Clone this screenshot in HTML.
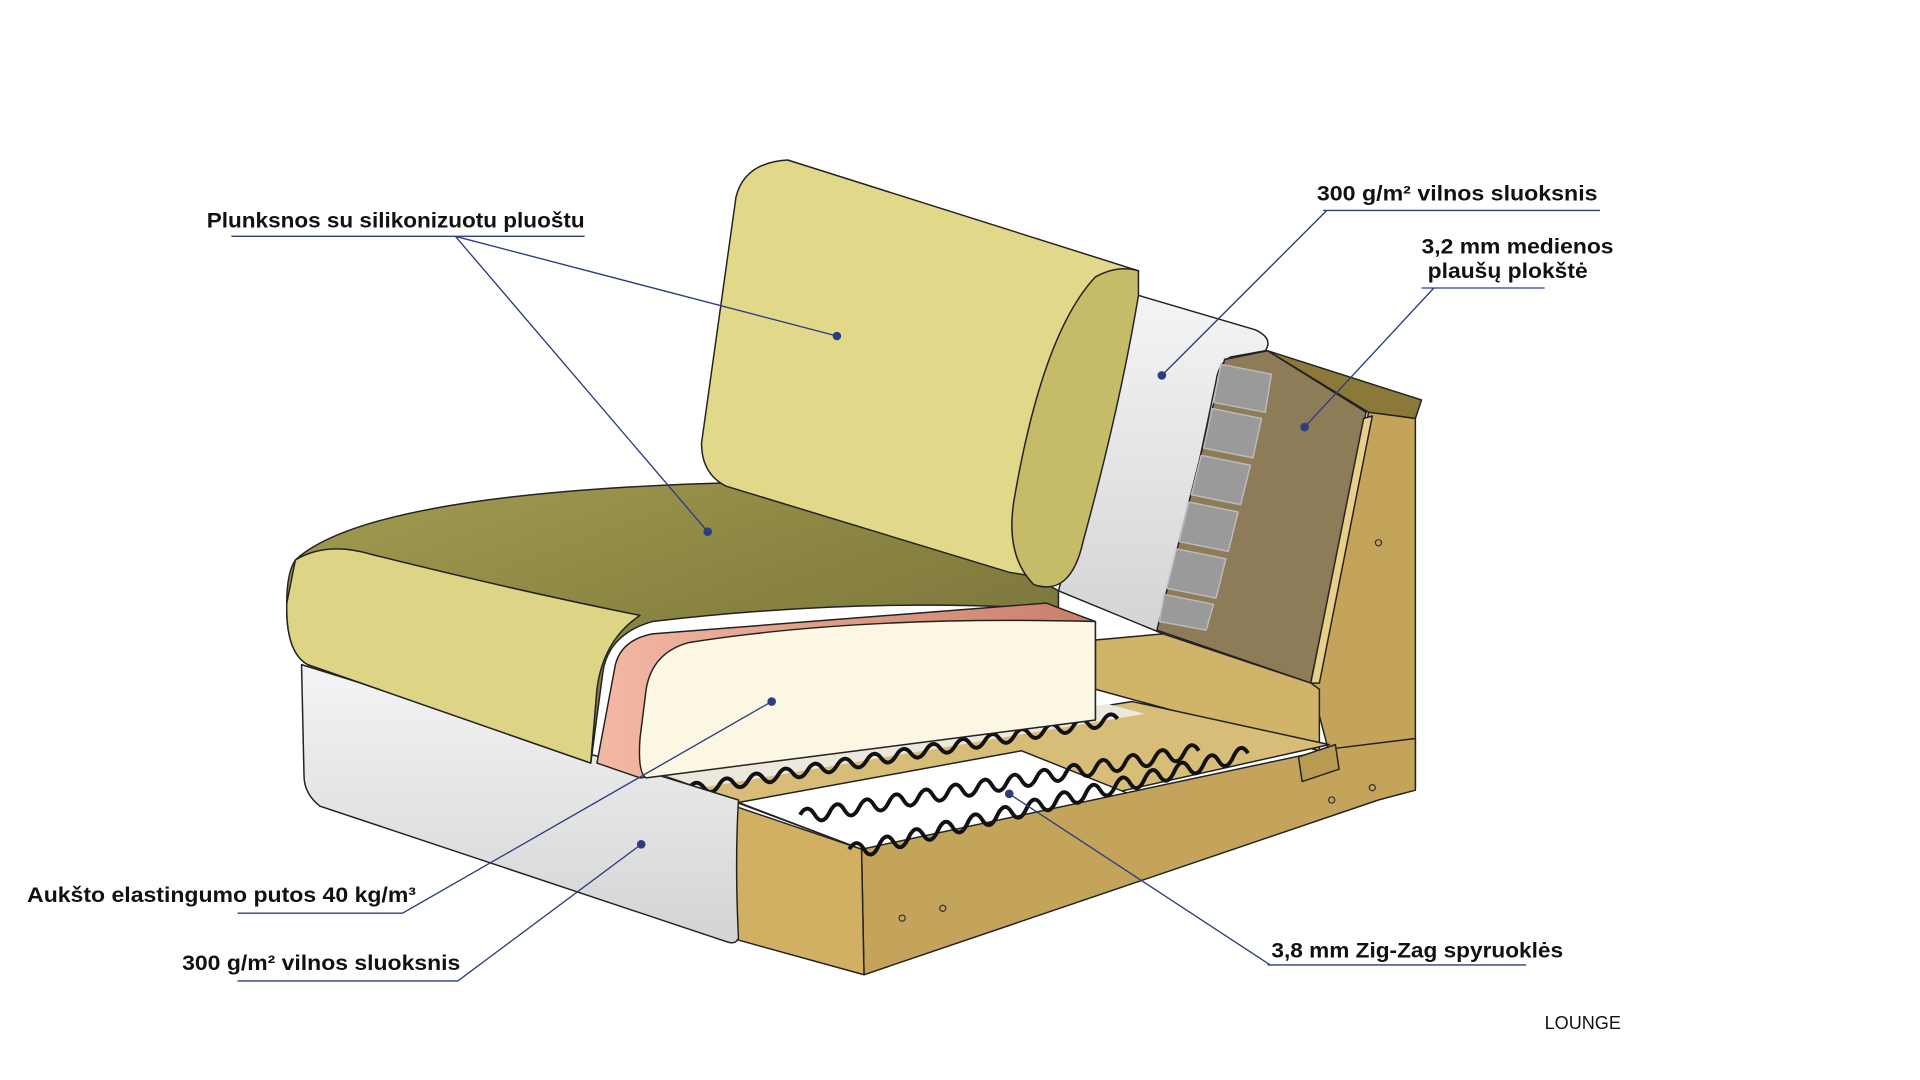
<!DOCTYPE html>
<html><head><meta charset="utf-8"><style>
html,body{margin:0;padding:0;background:#fff;width:1920px;height:1080px;overflow:hidden}
svg{display:block}
text{font-family:"Liberation Sans",sans-serif;font-weight:bold;fill:#111;font-size:17px}
</style></head><body>
<svg width="1920" height="1080" viewBox="0 0 1560 877.5" xmlns="http://www.w3.org/2000/svg">
<defs>
<linearGradient id="wh" x1="0" y1="0" x2="0" y2="1"><stop offset="0" stop-color="#f4f4f4"/><stop offset="1" stop-color="#d4d4d4"/></linearGradient>
<linearGradient id="seat" x1="0" y1="0" x2="1" y2="1"><stop offset="0" stop-color="#a39c50"/><stop offset="1" stop-color="#6f6a35"/></linearGradient>
<linearGradient id="pink" x1="0" y1="0" x2="1" y2="0"><stop offset="0" stop-color="#f3b8a4"/><stop offset="1" stop-color="#c97f6a"/></linearGradient>
</defs>
<g stroke="#222" stroke-width="1.2" stroke-linejoin="round">
<!-- back white arm -->
<path d="M925,240 L1020,268 Q1035,275 1028,285 L1000,290 Q990,295 988,310 L945,515 L860,480 Z" fill="url(#wh)"/>
<!-- hardboard back -->
<path d="M995,292 L1030,285 L1110,335 L1065,555 L940,512 Z" fill="#8e7b57"/>
<!-- insulation blocks -->
<g fill="#9a9a9a" stroke="#bbb">
<path d="M992,296 L1033,304 L1028,335 L986,327Z"/><path d="M985,332 L1025,340 L1018,372 L978,364Z"/>
<path d="M976,370 L1016,378 L1008,410 L968,402Z"/><path d="M966,408 L1006,416 L998,448 L958,440Z"/>
<path d="M956,446 L996,454 L988,486 L948,478Z"/><path d="M946,483 L986,491 L980,512 L942,505Z"/>
</g>
<!-- top cap & side panel -->
<path d="M1030,285 L1155,325 L1150,340 L1112,335 Z" fill="#8c7838"/>
<path d="M1112,335 L1150,340 L1150,640 L1090,650 L1065,555 Z" fill="#c4a45a"/>
<path d="M1108,340 L1115,338 L1072,555 L1065,555Z" fill="#e8cf8a"/>
<!-- back rails -->
<path d="M890,520 L945,515 L1065,555 L1072,560 L1072,610 L890,560Z" fill="#d1b46a"/>
<!-- spring bed -->
<path d="M540,630 L920,570 L1080,605 L700,690 Z" fill="#d8bd78"/>
<path d="M600,652 L830,610 L930,650 L700,690 Z" fill="#fff"/>
<path d="M540,630 L900,572 L930,580 L570,640Z" fill="#ece8de" stroke="none"/>
<!-- front rail -->
<path d="M700,690 L1085,608 L1150,600 L1150,642 L1120,650 L702,792 Z" fill="#c4a45a"/>
<path d="M597,655 L700,690 L702,792 L597,763 Z" fill="#d2b063"/>
<path d="M1055,615 L1085,605 L1088,625 L1058,635Z" fill="#b89a50"/>
</g>
<!-- springs -->
<g fill="none" stroke="#111" stroke-width="3.2">
<path d="M560,640 q6,-8 12,0 t12,-2 t12,-2 t12,-2 t12,-2 t12,-2 t12,-2 t12,-2 t12,-2 t12,-2 t12,-2 t12,-2 t12,-2 t12,-2 t12,-2 t12,-2 t12,-2 t12,-2 t12,-2 t12,-2 t12,-2 t12,-2 t12,-2 t12,-2 t12,-2 t12,-2 t12,-2 t12,-2 t12,-2"/>
<path d="M650,662 q6,-10 12,0 t12,-2 t12,-2 t12,-2 t12,-2 t12,-2 t12,-2 t12,-2 t12,-2 t12,-2 t12,-2 t12,-2 t12,-2 t12,-2 t12,-2 t12,-2 t12,-2 t12,-2 t12,-2 t12,-2 t12,-2 t12,-2 t12,-2 t12,-2 t12,-2 t12,-2 t12,-2"/>
<path d="M690,690 q6,-10 12,0 t12,-3 t12,-3 t12,-3 t12,-3 t12,-3 t12,-3 t12,-3 t12,-3 t12,-3 t12,-3 t12,-3 t12,-3 t12,-3 t12,-3 t12,-3 t12,-3 t12,-3 t12,-3 t12,-3 t12,-3 t12,-3 t12,-3 t12,-3 t12,-3 t12,-3 t12,-3"/>
</g>
<g stroke="#222" stroke-width="1.2" stroke-linejoin="round">
<!-- white base under seat -->
<path d="M245,540 L600,650 Q597,700 600,762 Q598,768 590,765 L260,655 Q247,645 247,630 Z" fill="url(#wh)"/>
<!-- seat cushion -->
<path d="M240,455 Q300,400 600,392 Q700,390 860,480 L860,495 Q700,485 530,505 Q495,515 490,545 L480,620 L250,540 Q232,530 233,490 Q233,465 240,455Z" fill="url(#seat)"/>
<path d="M240,455 Q265,440 300,450 Q420,480 520,500 Q490,520 485,560 L480,620 L250,540 Q232,530 233,490 Z" fill="#ddd486"/>
<!-- foam -->
<path d="M500,540 Q505,520 530,515 L850,490 L890,505 L890,585 L520,632 L485,620 Z" fill="url(#pink)"/>
<path d="M560,522 Q700,500 890,505 L890,585 L525,632 Q518,628 520,600 L525,560 Q530,530 560,522Z" fill="#fcf7e2"/>
<!-- backrest -->
<path d="M640,130 L925,220 Q860,380 850,470 L820,465 L590,395 Q570,385 570,360 L598,160 Q605,132 640,130Z" fill="#e1d88a"/>
<path d="M925,220 Q908,215 890,225 Q848,270 825,400 Q815,450 840,475 Q870,485 880,440 Q910,330 925,240 Z" fill="#c5bb68"/>
</g>
<!-- holes -->
<g fill="none" stroke="#333" stroke-width="1"><circle cx="1120" cy="441" r="2.5"/><circle cx="1115" cy="640" r="2.5"/><circle cx="1082" cy="650" r="2.5"/><circle cx="766" cy="738" r="2.5"/><circle cx="733" cy="746" r="2.5"/></g>
<!-- leader lines -->
<g stroke="#2b3f7f" stroke-width="1.1" fill="none">
<path d="M188,192 H475 M370,192 L680,273 M370,192 L575,432"/>
<path d="M1075,171 H1300 M1078,171 L944,305"/>
<path d="M1155,234 H1255 M1165,234 L1060,347"/>
<path d="M193,742 H327 L627,570"/>
<path d="M193,797 H372 L521,686"/>
<path d="M1030,784 H1240 M1032,784 L820,645"/>
</g>
<g fill="#2b3f7f"><circle cx="680" cy="273" r="3.5"/><circle cx="575" cy="432" r="3.5"/><circle cx="944" cy="305" r="3.5"/><circle cx="1060" cy="347" r="3.5"/><circle cx="627" cy="570" r="3.5"/><circle cx="521" cy="686" r="3.5"/><circle cx="820" cy="645" r="3.5"/></g>
<text x="168" y="185" textLength="307" lengthAdjust="spacingAndGlyphs">Plunksnos su silikonizuotu pluoštu</text>
<text x="1070" y="163" textLength="228" lengthAdjust="spacingAndGlyphs">300 g/m² vilnos sluoksnis</text>
<text x="1155" y="206" textLength="156" lengthAdjust="spacingAndGlyphs">3,2 mm medienos</text>
<text x="1160" y="226" textLength="130" lengthAdjust="spacingAndGlyphs">plaušų plokštė</text>
<text x="22" y="733" textLength="316" lengthAdjust="spacingAndGlyphs">Aukšto elastingumo putos 40 kg/m³</text>
<text x="148" y="788" textLength="226" lengthAdjust="spacingAndGlyphs">300 g/m² vilnos sluoksnis</text>
<text x="1033" y="778" textLength="237" lengthAdjust="spacingAndGlyphs">3,8 mm Zig-Zag spyruoklės</text>
<text x="1255" y="836" style="font-weight:normal;font-size:15px" textLength="62" lengthAdjust="spacingAndGlyphs">LOUNGE</text>
</svg>
</body></html>
